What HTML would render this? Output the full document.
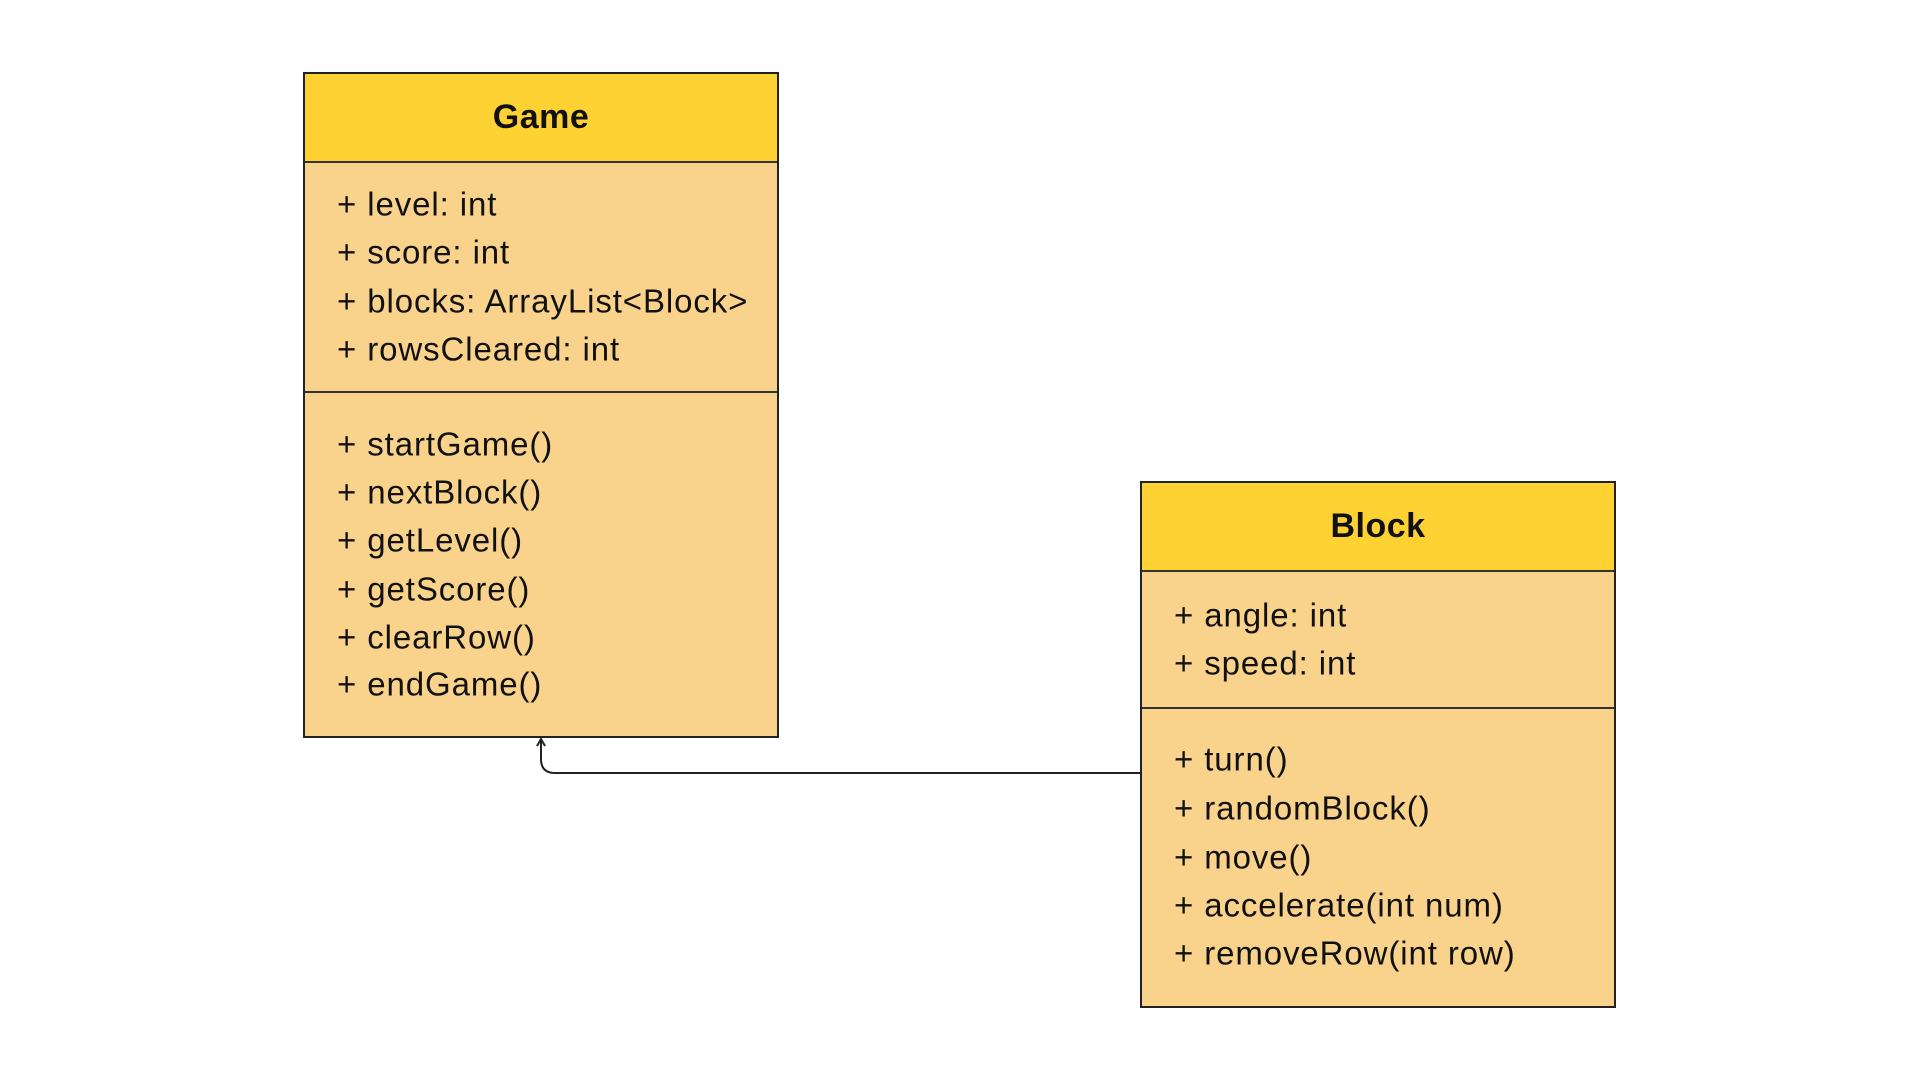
<!DOCTYPE html>
<html><head><style>
body{margin:0;width:1920px;height:1080px;background:#fff;position:relative;overflow:hidden;font-family:"Liberation Sans",sans-serif;color:#111}
.box{position:absolute;border:2px solid #222;background:#F9D38B;box-sizing:border-box}
.hd{position:absolute;left:0;right:0;top:0;background:#FFD233;border-bottom:2px solid #333;box-sizing:border-box;font-weight:bold;font-size:34px;letter-spacing:0.5px;display:flex;align-items:center;justify-content:center}
.dv{position:absolute;left:0;right:0;border-top:2px solid #333}
.t{position:absolute;font-size:33px;letter-spacing:0.9px;white-space:nowrap;line-height:1;transform:translateY(-50%)}
</style></head><body>
<div class="box" style="left:303px;top:72px;width:476px;height:666px">
 <div class="hd" style="height:89px">Game</div>
 <div class="dv" style="top:317px"></div>
 <div class="t" style="left:32px;top:130px">+ level: int</div>
 <div class="t" style="left:32px;top:178px">+ score: int</div>
 <div class="t" style="left:32px;top:227px">+ blocks: ArrayList&lt;Block&gt;</div>
 <div class="t" style="left:32px;top:275px">+ rowsCleared: int</div>
 <div class="t" style="left:32px;top:370px">+ startGame()</div>
 <div class="t" style="left:32px;top:418px">+ nextBlock()</div>
 <div class="t" style="left:32px;top:466px">+ getLevel()</div>
 <div class="t" style="left:32px;top:515px">+ getScore()</div>
 <div class="t" style="left:32px;top:563px">+ clearRow()</div>
 <div class="t" style="left:32px;top:610px">+ endGame()</div>
</div>
<div class="box" style="left:1140px;top:481px;width:476px;height:527px">
 <div class="hd" style="height:89px">Block</div>
 <div class="dv" style="top:224px"></div>
 <div class="t" style="left:32px;top:132px">+ angle: int</div>
 <div class="t" style="left:32px;top:180px">+ speed: int</div>
 <div class="t" style="left:32px;top:276px">+ turn()</div>
 <div class="t" style="left:32px;top:325px">+ randomBlock()</div>
 <div class="t" style="left:32px;top:374px">+ move()</div>
 <div class="t" style="left:32px;top:422px">+ accelerate(int num)</div>
 <div class="t" style="left:32px;top:470px">+ removeRow(int row)</div>
</div>
<svg width="1920" height="1080" style="position:absolute;left:0;top:0">
 <path d="M1140 773 H555 Q541 773 541 759 V740" fill="none" stroke="#222" stroke-width="2"/>
 <path d="M537 746 L541 739 L545 746" fill="none" stroke="#222" stroke-width="2"/>
</svg>
</body></html>
